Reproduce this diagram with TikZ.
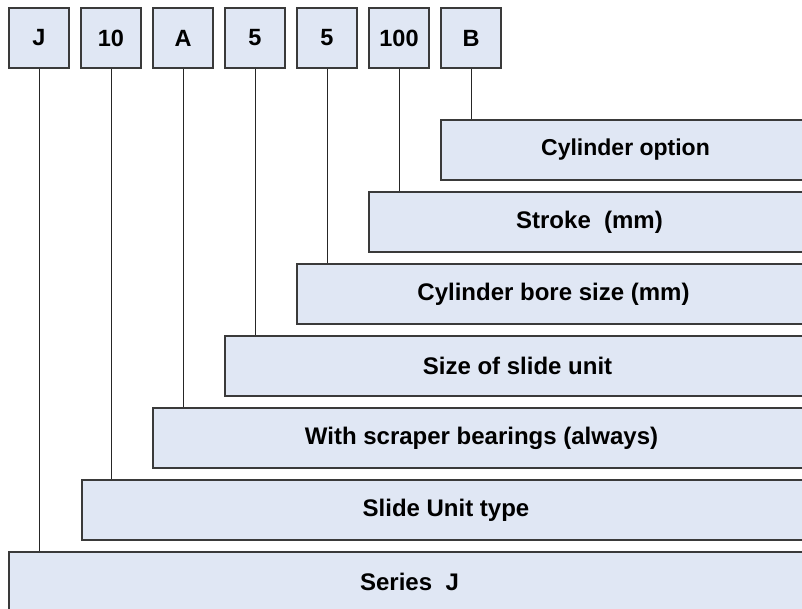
\documentclass[tikz,border=0pt]{standalone}
\usepackage{fontspec}
\setmainfont{Liberation Sans}
\usepackage{xcolor}
\usepackage{tikz}
\usetikzlibrary{shapes.geometric, positioning}
\definecolor{boxfill}{HTML}{E0E7F4}
\definecolor{boxline}{HTML}{3A3A3A}
\tikzstyle{codebox} = [rectangle, minimum width=60pt, minimum height=60pt, inner sep=0pt, text centered, draw=boxline, line width=1.3pt, fill=boxfill, font=\fontsize{23.5}{28}\selectfont\bfseries]
\tikzstyle{fieldbox} = [rectangle, minimum height=60pt, inner sep=0pt, text centered, draw=boxline, line width=1.3pt, fill=boxfill, font=\fontsize{24}{28}\selectfont\bfseries]
\tikzstyle{leader} = [draw=black!85, line width=0.9pt]

\begin{document}
\begin{tikzpicture}[x=1pt, y=-1pt]

		% Picture frame (the fields run off the right and bottom edge)
		\useasboundingbox (0,0) rectangle (802,608);
		\clip (0,0) rectangle (802,608);

		% Nodes for the order code
		\node (cJ) [codebox] at (39,38) {J};
		\node (cTen) [codebox] at (111,38) {10};
		\node (cA) [codebox] at (183,38) {A};
		\node (cSize) [codebox] at (255,38) {5};
		\node (cBore) [codebox] at (327,38) {5};
		\node (cStroke) [codebox] at (399,38) {100};
		\node (cB) [codebox] at (471,38) {B};

		% Nodes for the meaning of each field
		\node (option) [fieldbox, minimum width=369pt, font=\fontsize{23}{28}\selectfont\bfseries] at (625.5,150) {Cylinder option};
		\node (stroke) [fieldbox, minimum width=441pt] at (589.5,222) {Stroke~ (mm)};
		\node (bore) [fieldbox, minimum width=513pt] at (553.5,294) {Cylinder bore size (mm)};
		\node (size) [fieldbox, minimum width=585pt] at (517.5,366) {Size of slide unit};
		\node (scraper) [fieldbox, minimum width=657pt] at (481.5,438) {With scraper bearings (always)};
		\node (slide) [fieldbox, minimum width=728pt] at (446,510) {Slide Unit type};
		\node (series) [fieldbox, minimum width=801pt] at (409.5,582) {Series~ J};

		% Leader lines from code to field
		\draw [leader] (cB.south) -- (cB.south |- option.north);
		\draw [leader] (cStroke.south) -- (cStroke.south |- stroke.north);
		\draw [leader] (cBore.south) -- (cBore.south |- bore.north);
		\draw [leader] (cSize.south) -- (cSize.south |- size.north);
		\draw [leader] (cA.south) -- (cA.south |- scraper.north);
		\draw [leader] (cTen.south) -- (cTen.south |- slide.north);
		\draw [leader] (cJ.south) -- (cJ.south |- series.north);

	\end{tikzpicture}
\end{document}
